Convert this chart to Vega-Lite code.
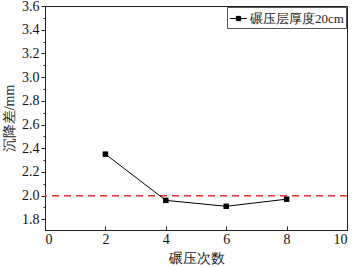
{
  "$schema": "https://vega.github.io/schema/vega-lite/v6.json",
  "width": 302,
  "height": 224,
  "autosize": "none",
  "padding": {"left": 45, "top": 6, "right": 10, "bottom": 37},
  "config": {
    "view": {"stroke": "#222", "strokeWidth": 1},
    "font": "Liberation Serif",
    "axis": {"labelFont": "Liberation Serif", "labelFontSize": 14, "labelColor": "#111", "titleFont": "Liberation Serif", "titleFontSize": 14, "titleFontWeight": "normal", "titleColor": "#222", "domainColor": "#222", "tickColor": "#222", "grid": false}
  },
  "datasets": {
    "pts": [
      {"n": 2, "d": 2.35, "s": "碾压层厚度20cm"},
      {"n": 4, "d": 1.96, "s": "碾压层厚度20cm"},
      {"n": 6, "d": 1.91, "s": "碾压层厚度20cm"},
      {"n": 8, "d": 1.97, "s": "碾压层厚度20cm"}
    ],
    "ref": [{"v": 2.0}],
    "minor": [{"m": 1.9}, {"m": 2.1}, {"m": 2.3}, {"m": 2.5}, {"m": 2.7}, {"m": 2.9}, {"m": 3.1}, {"m": 3.3}, {"m": 3.5}]
  },
  "resolve": {"axis": {"y": "independent"}},
  "layer": [
    {
      "data": {"name": "ref"},
      "mark": {"type": "rule", "color": "#e8332d", "strokeWidth": 1.5, "strokeDash": [7, 5]},
      "encoding": {
        "y": {"field": "v", "type": "quantitative", "scale": {"domain": [1.71, 3.6], "nice": false, "zero": false},
          "axis": {"orient": "left", "title": "沉降差/mm", "values": [1.8, 2.0, 2.2, 2.4, 2.6, 2.8, 3.0, 3.2, 3.4, 3.6], "format": ".1f", "tickSize": 4, "labelPadding": 2, "titlePadding": 5}}
      }
    },
    {
      "data": {"name": "minor"},
      "mark": {"type": "tick", "opacity": 0},
      "encoding": {
        "y": {"field": "m", "type": "quantitative",
          "axis": {"orient": "left", "title": null, "values": [1.9, 2.1, 2.3, 2.5, 2.7, 2.9, 3.1, 3.3, 3.5], "labels": false, "tickSize": 2, "domain": false}}
      }
    },
    {
      "data": {"name": "pts"},
      "mark": {"type": "line", "color": "#111", "strokeWidth": 1, "point": {"shape": "square", "size": 30, "filled": true, "color": "#000", "opacity": 1}},
      "encoding": {
        "x": {"field": "n", "type": "quantitative", "scale": {"domain": [0, 10], "nice": false},
          "axis": {"title": "碾压次数", "values": [0, 2, 4, 6, 8, 10], "tickSize": -4, "labelPadding": 6, "titlePadding": 5}},
        "y": {"field": "d", "type": "quantitative", "axis": null},
        "color": {"field": "s", "type": "nominal", "scale": {"range": ["#000"]},
          "legend": {"title": null, "orient": "top-right", "offset": 1, "strokeColor": "#555", "fillColor": "white", "padding": 2, "labelFont": "Liberation Serif", "labelFontSize": 13, "labelColor": "#222", "symbolType": "M-1,0H1M-0.25,-0.25H0.25V0.25H-0.25Z", "symbolSize": 290, "symbolStrokeWidth": 1, "symbolFillColor": "#000", "symbolStrokeColor": "#000", "labelOffset": 2}}
      }
    }
  ]
}
